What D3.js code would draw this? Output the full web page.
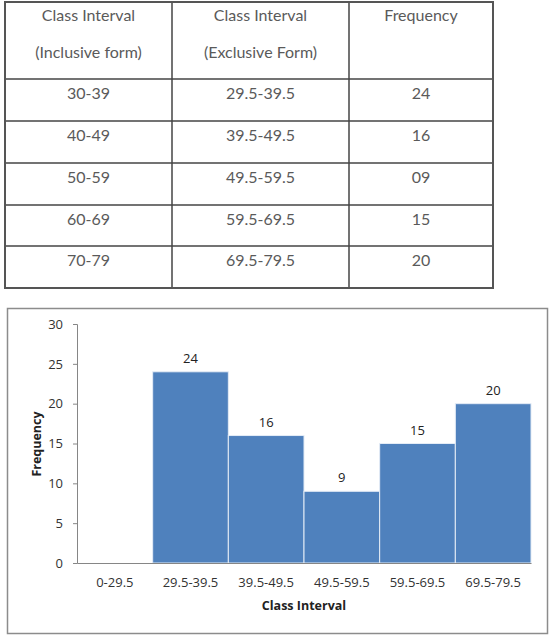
<!DOCTYPE html>
<html><head><meta charset="utf-8">
<script src="https://cdn.jsdelivr.net/npm/d3@7"></script>
<style>body{margin:0;background:#fff}svg{display:block}</style>
</head><body>
<script>
// ---- data ----
const headerCol1 = ["Class Interval", "(Inclusive form)"];
const headerCol2 = ["Class Interval", "(Exclusive Form)"];
const headerCol3 = ["Frequency"];
const inclusive = ["30-39", "40-49", "50-59", "60-69", "70-79"];
const exclusive = ["29.5-39.5", "39.5-49.5", "49.5-59.5", "59.5-69.5", "69.5-79.5"];
const freqText = ["24", "16", "09", "15", "20"];
const categories = ["0-29.5", "29.5-39.5", "39.5-49.5", "49.5-59.5", "59.5-69.5", "69.5-79.5"];
const frequency = [null, 24, 16, 9, 15, 20];
const yTicks = [0, 5, 10, 15, 20, 25, 30];

const W = 552, H = 636;
const svg = d3.select("body").append("svg").attr("width", W).attr("height", H);

// ---- table ----
const tbl = svg.append("g");
const colX = [5, 172, 349, 493];
const rowY = [2, 79, 121, 163, 205, 246, 288];
const tFont = "Lato, 'Open Sans', sans-serif";
const tColor = "#5a5a5a";
const headers = [headerCol1, headerCol2, headerCol3];
headers.forEach((lines, c) => {
  const cx = (colX[c] + colX[c + 1]) / 2;
  lines.forEach((t, i) => {
    tbl.append("text").attr("x", cx).attr("y", 20.5 + i * 37)
      .attr("text-anchor", "middle").attr("font-family", tFont)
      .attr("font-size", 16).attr("fill", tColor).text(t);
  });
});
const rows = inclusive.map((d, i) => [d, exclusive[i], freqText[i]]);
rows.forEach((r, i) => {
  r.forEach((t, c) => {
    tbl.append("text").attr("x", (colX[c] + colX[c + 1]) / 2).attr("y", rowY[i + 1] + 19.5)
      .attr("text-anchor", "middle").attr("font-family", tFont)
      .attr("font-size", 16).attr("fill", tColor).text(t);
  });
});
rowY.slice(1, -1).forEach(y => {
  tbl.append("line").attr("x1", colX[0]).attr("x2", colX[3]).attr("y1", y).attr("y2", y)
    .attr("stroke", "#444").attr("stroke-width", 1.5);
});
colX.slice(1, -1).forEach(x => {
  tbl.append("line").attr("x1", x).attr("x2", x).attr("y1", rowY[0]).attr("y2", rowY[6])
    .attr("stroke", "#444").attr("stroke-width", 1.5);
});
tbl.append("rect").attr("x", colX[0]).attr("y", rowY[0]).attr("width", colX[3] - colX[0])
  .attr("height", rowY[6] - rowY[0]).attr("fill", "none").attr("stroke", "#555").attr("stroke-width", 2);

// ---- chart ----
const cFont = "'Open Sans', 'Liberation Sans', Arial, sans-serif";
svg.append("rect").attr("x", 7.5).attr("y", 308.5).attr("width", 540).attr("height", 325)
  .attr("fill", "#fff").attr("stroke", "#8c8c8c").attr("stroke-width", 1.5);

const x = d3.scaleBand().domain(categories).range([77, 531]).padding(0);
const y = d3.scaleLinear().domain([0, 30]).range([563, 324]);

const data = categories.map((c, i) => ({ c, v: frequency[i] }));

svg.append("g").selectAll("rect").data(data.filter(d => d.v != null)).join("rect")
  .attr("x", d => x(d.c)).attr("width", x.bandwidth())
  .attr("y", d => y(d.v)).attr("height", d => y(0) - y(d.v))
  .attr("fill", "#4F81BD").attr("stroke", "#e4ecf6").attr("stroke-width", 1);

svg.append("g").selectAll("text").data(data.filter(d => d.v != null)).join("text")
  .attr("x", d => x(d.c) + x.bandwidth() / 2).attr("y", d => y(d.v) - 9)
  .attr("text-anchor", "middle").attr("font-family", cFont).attr("font-size", 13)
  .attr("fill", "#222").text(d => d.v);

const yAxis = svg.append("g").attr("transform", "translate(77,0)")
  .call(d3.axisLeft(y).tickValues(yTicks).tickSize(4).tickPadding(10));
yAxis.select(".domain").attr("stroke", "#868686");
yAxis.selectAll(".tick line").attr("stroke", "#868686");
yAxis.selectAll("text").attr("font-family", cFont).attr("font-size", 13).attr("fill", "#333");

const xAxis = svg.append("g").attr("transform", "translate(0,563)")
  .call(d3.axisBottom(x).tickSize(0).tickPadding(15).tickSizeOuter(0));
xAxis.select(".domain").attr("stroke", "#868686");
xAxis.selectAll("text").attr("font-family", cFont).attr("font-size", 13).attr("fill", "#333");

svg.append("text").attr("x", 304).attr("y", 610).attr("text-anchor", "middle")
  .attr("font-family", cFont).attr("font-size", 12.5).attr("font-weight", "bold").attr("fill", "#222")
  .text("Class Interval");
svg.append("text").attr("transform", "translate(41,444) rotate(-90)").attr("text-anchor", "middle")
  .attr("font-family", cFont).attr("font-size", 12.5).attr("font-weight", "bold").attr("fill", "#222")
  .text("Frequency");
</script>
</body></html>
